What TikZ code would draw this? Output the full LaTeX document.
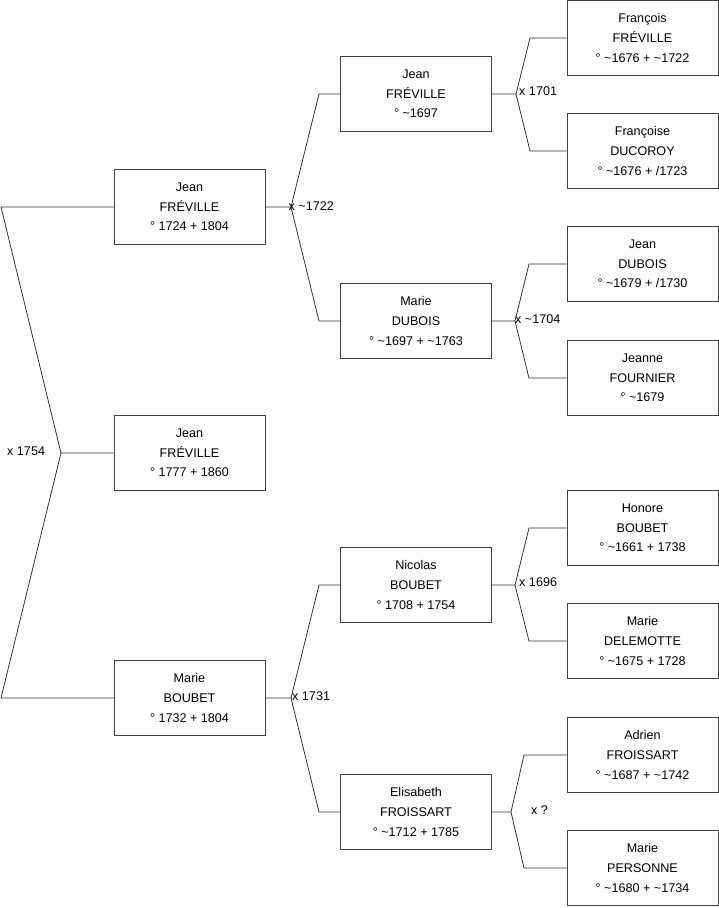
\documentclass[tikz,border=0pt]{standalone}
\usepackage{fontspec}
\setmainfont{Liberation Sans}
\begin{document}
\begin{tikzpicture}[x=1pt,y=-1pt,
  person/.style={draw=black!75,line width=0.9pt,minimum width=151pt,minimum height=75pt,
    inner sep=0pt,align=center,font=\fontsize{12.6}{19.6}\selectfont},
  link/.style={draw=black!80,line width=0.8pt},
  mlabel/.style={anchor=west,inner sep=0pt,font=\fontsize{12.6}{14}\selectfont}]
\useasboundingbox (0,0) rectangle (719,908);
% column 1
\node[person] (r) at (189.5,453) {Jean\\FRÉVILLE\\° 1777 + 1860};
\node[person] (f) at (189.5,207) {Jean\\FRÉVILLE\\° 1724 + 1804};
\node[person] (m) at (189.5,698) {Marie\\BOUBET\\° 1732 + 1804};
% column 2
\node[person] (ff) at (416,94) {Jean\\FRÉVILLE\\° \textasciitilde1697};
\node[person] (fm) at (416,321) {Marie\\DUBOIS\\° \textasciitilde1697 + \textasciitilde1763};
\node[person] (mf) at (416,585) {Nicolas\\BOUBET\\° 1708 + 1754};
\node[person] (mm) at (416,812) {Elisabeth\\FROISSART\\° \textasciitilde1712 + 1785};
% column 3
\node[person] (fff) at (642.5,38) {François\\FRÉVILLE\\° \textasciitilde1676 + \textasciitilde1722};
\node[person] (ffm) at (642.5,151) {Françoise\\DUCOROY\\° \textasciitilde1676 + /1723};
\node[person] (fmf) at (642.5,264) {Jean\\DUBOIS\\° \textasciitilde1679 + /1730};
\node[person] (fmm) at (642.5,378) {Jeanne\\FOURNIER\\° \textasciitilde1679};
\node[person] (mff) at (642.5,528) {Honore\\BOUBET\\° \textasciitilde1661 + 1738};
\node[person] (mfm) at (642.5,641) {Marie\\DELEMOTTE\\° \textasciitilde1675 + 1728};
\node[person] (mmf) at (642.5,755) {Adrien\\FROISSART\\° \textasciitilde1687 + \textasciitilde1742};
\node[person] (mmm) at (642.5,868) {Marie\\PERSONNE\\° \textasciitilde1680 + \textasciitilde1734};
% joints
\coordinate (jr) at (61,453);
\coordinate (jr1) at (1,207);
\coordinate (jr2) at (1,698);
\coordinate (jf) at (291,207);
\coordinate (jf1) at (319,94);
\coordinate (jf2) at (319,321);
\coordinate (jm) at (291,698);
\coordinate (jm1) at (319,585);
\coordinate (jm2) at (319,812);
\coordinate (jff) at (516,94);
\coordinate (jff1) at (530,38);
\coordinate (jff2) at (530,151);
\coordinate (jfm) at (515,321);
\coordinate (jfm1) at (529,264);
\coordinate (jfm2) at (529,378);
\coordinate (jmf) at (515,585);
\coordinate (jmf1) at (529,528);
\coordinate (jmf2) at (529,641);
\coordinate (jmm) at (511,812);
\coordinate (jmm1) at (524,755);
\coordinate (jmm2) at (524,868);
% connectors
\draw[link] (r.west) -- (jr) -- (jr1) -- (f.west);
\draw[link] (jr) -- (jr2) -- (m.west);
\draw[link] (f.east) -- (jf) -- (jf1) -- (ff.west);
\draw[link] (jf) -- (jf2) -- (fm.west);
\draw[link] (m.east) -- (jm) -- (jm1) -- (mf.west);
\draw[link] (jm) -- (jm2) -- (mm.west);
\draw[link] (ff.east) -- (jff) -- (jff1) -- (fff.west);
\draw[link] (jff) -- (jff2) -- (ffm.west);
\draw[link] (fm.east) -- (jfm) -- (jfm1) -- (fmf.west);
\draw[link] (jfm) -- (jfm2) -- (fmm.west);
\draw[link] (mf.east) -- (jmf) -- (jmf1) -- (mff.west);
\draw[link] (jmf) -- (jmf2) -- (mfm.west);
\draw[link] (mm.east) -- (jmm) -- (jmm1) -- (mmf.west);
\draw[link] (jmm) -- (jmm2) -- (mmm.west);
% marriage labels
\node[mlabel] (lr) at (7,451.5) {x 1754};
\node[mlabel] (lf) at (288.5,206.5) {x \textasciitilde1722};
\node[mlabel] (lm) at (292,696.5) {x 1731};
\node[mlabel] (lff) at (519,91.5) {x 1701};
\node[mlabel] (lfm) at (515,319.5) {x \textasciitilde1704};
\node[mlabel] (lmf) at (519,582.5) {x 1696};
\node[mlabel] (lmm) at (531,810.5) {x ?};
\end{tikzpicture}
\end{document}
